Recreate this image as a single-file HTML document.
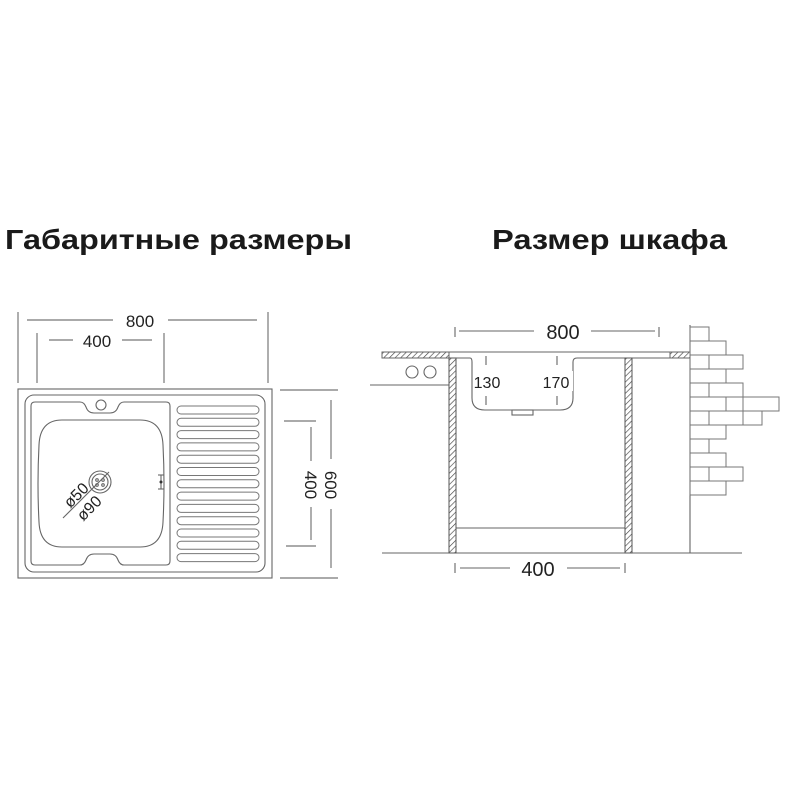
<!DOCTYPE html>
<html><head><meta charset="utf-8"><style>html,body{margin:0;padding:0;background:#fff}svg{display:block}</style></head>
<body>
<svg width="800" height="800" viewBox="0 0 800 800" xmlns="http://www.w3.org/2000/svg" font-family="Liberation Sans, sans-serif">
<defs>
<pattern id="h" width="4" height="4" patternUnits="userSpaceOnUse" patternTransform="rotate(45)">
<rect width="4" height="4" fill="#fff"/><line x1="0" y1="0" x2="0" y2="4" stroke="#444" stroke-width="1.3"/></pattern>
</defs>
<text x="5" y="249" font-size="28" font-weight="bold" fill="#1a1a1a" textLength="347" lengthAdjust="spacingAndGlyphs">Габаритные размеры</text>
<text x="492" y="249" font-size="28" font-weight="bold" fill="#1a1a1a" textLength="235" lengthAdjust="spacingAndGlyphs">Размер шкафа</text>

<g stroke="#777" stroke-width="1.2" fill="none">
<line x1="18" y1="312" x2="18" y2="383"/><line x1="268" y1="312" x2="268" y2="383"/>
<line x1="27" y1="320" x2="113" y2="320"/><line x1="168" y1="320" x2="257" y2="320"/>
<line x1="37" y1="333" x2="37" y2="383"/><line x1="164" y1="333" x2="164" y2="383"/>
<line x1="49" y1="340" x2="73" y2="340"/><line x1="122" y1="340" x2="152" y2="340"/>
<line x1="280" y1="390" x2="338" y2="390"/><line x1="280" y1="578" x2="338" y2="578"/>
<line x1="331" y1="400" x2="331" y2="459"/><line x1="331" y1="509" x2="331" y2="568"/>
<line x1="284" y1="421" x2="316" y2="421"/><line x1="286" y1="546" x2="316" y2="546"/>
<line x1="311" y1="427" x2="311" y2="461"/><line x1="311" y1="507" x2="311" y2="540"/>
</g>
<text x="140" y="327" font-size="17" text-anchor="middle" fill="#222">800</text>
<text x="97" y="347" font-size="17" text-anchor="middle" fill="#222">400</text>
<text transform="translate(325,485) rotate(90)" font-size="17" text-anchor="middle" fill="#222">600</text>
<text transform="translate(305,485) rotate(90)" font-size="17" text-anchor="middle" fill="#222">400</text>

<g stroke="#666" stroke-width="1.1" fill="none">
<rect x="18" y="389" width="254" height="189"/>
<rect x="25" y="395" width="240" height="177" rx="9"/>
<path d="M35,402 H80 Q84,402 86,407 Q88,413 94,413 H110 Q116,413 118,407 Q120,402 124,402 H166 Q170,402 170,406 V561 Q170,565 166,565 H124 Q120,565 118,560 Q116,554 110,554 H94 Q88,554 86,560 Q84,565 80,565 H35 Q31,565 31,561 V406 Q31,402 35,402 Z"/>
<path d="M62,420 H140 Q162,420 163,445 Q165,484 163,522 Q162,547 140,547 H62 Q40,547 39,522 Q37,484 39,445 Q40,420 62,420 Z"/>
<circle cx="101" cy="405" r="5"/>
<circle cx="100" cy="482" r="11"/><circle cx="100" cy="482" r="8"/>
<circle cx="97" cy="480" r="1.3"/><circle cx="103" cy="480" r="1.3"/><circle cx="97" cy="485" r="1.3"/><circle cx="103" cy="485" r="1.3"/>
<line x1="63" y1="518" x2="109" y2="472"/>
<line x1="158" y1="475" x2="164" y2="475"/><line x1="158" y1="489" x2="164" y2="489"/>
<line x1="161" y1="475" x2="161" y2="489"/>
</g>
<circle cx="161" cy="482" r="1.5" fill="#333"/>
<text transform="translate(80,499) rotate(-45)" font-size="16" text-anchor="middle" fill="#222">ø50</text>
<text transform="translate(93,512) rotate(-45)" font-size="16" text-anchor="middle" fill="#222">ø90</text>
<g stroke="#777" stroke-width="1" fill="none">
<rect x="177" y="406.0" width="82" height="8" rx="4"/>
<rect x="177" y="418.3" width="82" height="8" rx="4"/>
<rect x="177" y="430.6" width="82" height="8" rx="4"/>
<rect x="177" y="442.9" width="82" height="8" rx="4"/>
<rect x="177" y="455.2" width="82" height="8" rx="4"/>
<rect x="177" y="467.5" width="82" height="8" rx="4"/>
<rect x="177" y="479.8" width="82" height="8" rx="4"/>
<rect x="177" y="492.1" width="82" height="8" rx="4"/>
<rect x="177" y="504.4" width="82" height="8" rx="4"/>
<rect x="177" y="516.7" width="82" height="8" rx="4"/>
<rect x="177" y="529.0" width="82" height="8" rx="4"/>
<rect x="177" y="541.3" width="82" height="8" rx="4"/>
<rect x="177" y="553.6" width="82" height="8" rx="4"/>
</g>

<g stroke="#666" stroke-width="1.1" fill="none">
<line x1="455" y1="327" x2="455" y2="337"/><line x1="659" y1="327" x2="659" y2="337"/>
<line x1="459" y1="331" x2="534" y2="331"/><line x1="591" y1="331" x2="655" y2="331"/>
<line x1="455" y1="563" x2="455" y2="573"/><line x1="625" y1="563" x2="625" y2="573"/>
<line x1="460" y1="568" x2="510" y2="568"/><line x1="567" y1="568" x2="620" y2="568"/>
<line x1="382" y1="352" x2="690" y2="352"/>
<line x1="382" y1="358" x2="449" y2="358"/>
<path d="M449,358 H470 Q472,358 472,362 V398 Q472,410 485,410 H560 Q573,410 573,398 V362 Q573,358 577,358 H690"/>
<line x1="370" y1="385" x2="449" y2="385"/>
<circle cx="412" cy="372" r="6"/><circle cx="430" cy="372" r="6"/>
<rect x="512" y="410" width="21" height="5"/>
<line x1="456" y1="528" x2="625" y2="528"/>
<line x1="382" y1="553" x2="742" y2="553"/>
<line x1="690" y1="325" x2="690" y2="553"/>
</g>
<rect x="382" y="352" width="67" height="6" fill="url(#h)" stroke="#666"/>
<rect x="670" y="352" width="20" height="6" fill="url(#h)" stroke="#666"/>
<rect x="449" y="358" width="7" height="195" fill="url(#h)" stroke="#555"/>
<rect x="625" y="358" width="7" height="195" fill="url(#h)" stroke="#555"/>
<g stroke="#666" stroke-width="1.1" fill="none" stroke-dasharray="9,11">
<line x1="486" y1="356" x2="486" y2="406"/><line x1="557" y1="356" x2="557" y2="406"/>
</g>
<rect x="473" y="371" width="28" height="20" fill="#fff"/>
<rect x="540" y="371" width="33" height="20" fill="#fff"/>
<text x="487" y="388" font-size="16" text-anchor="middle" fill="#222">130</text>
<text x="556" y="388" font-size="16" text-anchor="middle" fill="#222">170</text>
<text x="563" y="339" font-size="20" text-anchor="middle" fill="#222">800</text>
<text x="538" y="576" font-size="20" text-anchor="middle" fill="#222">400</text>

<g stroke="#777" stroke-width="1" fill="none">
<rect x="690" y="327" width="19" height="14"/>
<rect x="690" y="341" width="36" height="14"/>
<rect x="690" y="355" width="19" height="14"/><rect x="709" y="355" width="34" height="14"/>
<rect x="690" y="369" width="36" height="14"/>
<rect x="690" y="383" width="19" height="14"/><rect x="709" y="383" width="34" height="14"/>
<rect x="690" y="397" width="36" height="14"/><rect x="726" y="397" width="17" height="14"/><rect x="743" y="397" width="36" height="14"/>
<rect x="690" y="411" width="19" height="14"/><rect x="709" y="411" width="34" height="14"/><rect x="743" y="411" width="19" height="14"/>
<rect x="690" y="425" width="36" height="14"/>
<rect x="690" y="439" width="19" height="14"/>
<rect x="690" y="453" width="36" height="14"/>
<rect x="690" y="467" width="19" height="14"/><rect x="709" y="467" width="34" height="14"/>
<rect x="690" y="481" width="36" height="14"/>
</g>
</svg>
</body></html>
